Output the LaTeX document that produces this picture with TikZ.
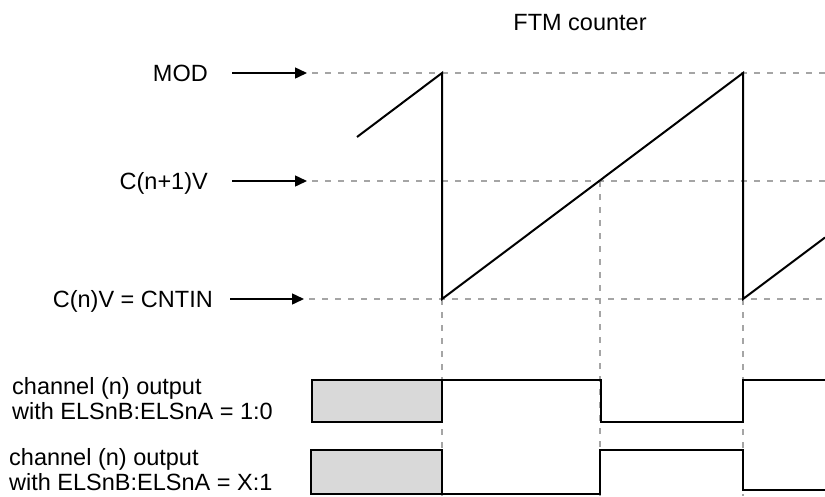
\documentclass[tikz,border=0pt]{standalone}
\usepackage{fontspec}
\setmainfont{Liberation Sans}
\usetikzlibrary{arrows.meta}
\definecolor{dashgray}{RGB}{165,165,165}
\definecolor{boxgray}{RGB}{217,217,217}
\tikzset{
  lbl/.style={inner sep=0pt, font=\fontsize{23.5}{25}\selectfont},
  ptr/.style={line width=1.5pt, -{Triangle[length=12pt,width=11pt]}},
  guide/.style={dashgray, line width=1.2pt, dash pattern=on 6pt off 7pt},
  wave/.style={line width=2pt, line join=miter},
  sig/.style={line width=1.8pt, line join=miter},
  shade/.style={draw=black, line width=1.5pt, fill=boxgray}
}
\begin{document}
\begin{tikzpicture}[x=1pt,y=-1pt]
\useasboundingbox (0,0) rectangle (825,496);

% title
\node[lbl] (title) at (580,23) {FTM counter};

% level labels
\node[lbl, anchor=base east] (mod) at (208,81) {MOD};
\node[lbl, anchor=base east] (cnp) at (208,189) {C(n+1)V};
\node[lbl, anchor=base east] (cn) at (213,307) {C(n)V = CNTIN};

\coordinate (modS) at (232,73);  \coordinate (modT) at (307,73);
\coordinate (cnpS) at (232,181); \coordinate (cnpT) at (307,181);
\coordinate (cnS)  at (230,299); \coordinate (cnT)  at (304,299);

% guide lines
\draw[guide] (312,73) -- (825,73);
\draw[guide] (312,181) -- (825,181);
\draw[guide] (309,299) -- (825,299);
\draw[guide] (442,299) -- (442,496);
\draw[guide] (600,181) -- (600,496);
\draw[guide] (743,299) -- (743,496);

% pointer arrows
\draw[ptr] (modS) -- (modT);
\draw[ptr] (cnpS) -- (cnpT);
\draw[ptr] (cnS) -- (cnT);

% counter sawtooth
\draw[wave] (357,137) -- (442,73) -- (442,299) -- (743,73) -- (743,299) -- (825,237.5);

% channel labels (base anchor = baseline of the last line)
\node[lbl, anchor=base west, align=left] (ch1) at (12,419) {channel (n) output\\with ELSnB:ELSnA = 1:0};
\node[lbl, anchor=base west, align=left] (ch2) at (9,490) {channel (n) output\\with ELSnB:ELSnA = X:1};

% channel 1 waveform
\draw[shade] (312,380) rectangle (442,422);
\draw[sig] (312,380) -- (601,380) -- (601,422) -- (743,422) -- (743,380) -- (825,380);

% channel 2 waveform
\draw[shade] (311,450) rectangle (442,494);
\draw[sig] (311,494) -- (600,494) -- (600,450) -- (743,450) -- (743,490) -- (825,490);
\end{tikzpicture}
\end{document}
